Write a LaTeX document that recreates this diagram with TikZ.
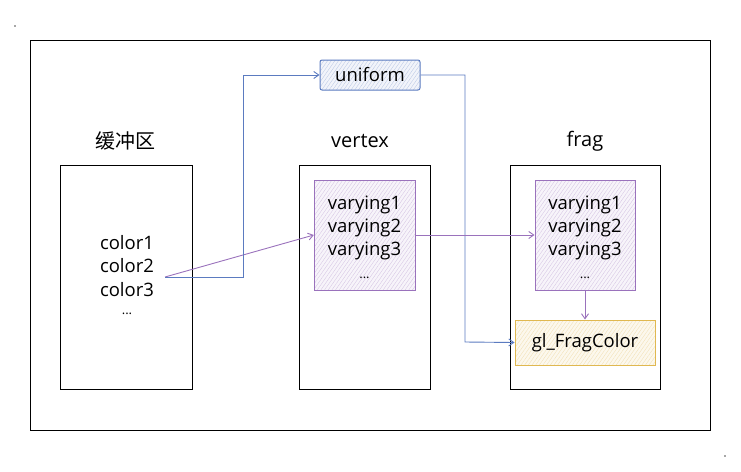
\documentclass[tikz,border=0pt]{standalone}
\usepackage{fontspec}
\setmainfont{Open Sans}
\newfontfamily\cjk{Noto Sans CJK SC}
\usetikzlibrary{patterns.meta,arrows.meta}
\definecolor{bluel}{HTML}{5B7BC0}
\definecolor{purp}{HTML}{9A72BC}
\definecolor{yel}{HTML}{E0B850}
\tikzset{
  every node/.style={font=\fontsize{18.5}{23}\selectfont, text=black},
  outerbox/.style={draw=black, line width=1pt, inner sep=0pt},
  purplebox/.style={draw=purp, line width=1pt, inner sep=0pt, align=center,
    preaction={fill=purp!8},
    pattern={Lines[angle=55,distance=3pt,line width=0.3pt]}, pattern color=purp!45},
  bluebox/.style={draw=bluel, line width=1pt, rounded corners=2pt, inner sep=0pt,
    preaction={fill=bluel!8},
    pattern={Lines[angle=55,distance=3pt,line width=0.3pt]}, pattern color=bluel!45},
  yelbox/.style={draw=yel, line width=1pt, inner sep=0pt,
    preaction={fill=yel!10},
    pattern={Lines[angle=55,distance=3pt,line width=0.3pt]}, pattern color=yel!45},
  conn/.style={line width=0.9pt, -{Straight Barb[length=5pt,width=7pt]}},
  title/.style={font=\fontsize{20}{22}\selectfont},
}
\begin{document}
\begin{tikzpicture}[x=1pt,y=-1pt]
\useasboundingbox (0,0) rectangle (741,471);
\fill[black!70] (15,26) circle (0.8);
\fill[black!70] (725,456) circle (0.8);
% outer frame
\draw[line width=1pt] (30,40) rectangle (710,430);
% main boxes
\node[outerbox, minimum width=132, minimum height=224] (buf) at (126,277) {};
\node[outerbox, minimum width=131, minimum height=224] (vert) at (364.5,277) {};
\node[outerbox, minimum width=150, minimum height=224] (frag) at (585,277) {};
% titles
\node[title] (tbuf) at (125,141) {\cjk 缓冲区};
\node[title] (tvert) at (360,141) {vertex};
\node[title] (tfrag) at (585,141) {frag};
% buffer text
\node[align=center] (bt1) at (127,243) {color1};
\node[align=center] (bt2) at (127,266) {color2};
\node[align=center] (bt3) at (127,290) {color3};
\node[font=\fontsize{13}{15}\selectfont] (bt4) at (127,314) {...};
% inner boxes
\node[purplebox, minimum width=101, minimum height=110] (vin) at (364.5,235) {};
\node[align=center] (vtxt) at (364.5,237) {varying1\\varying2\\varying3\\{\fontsize{13}{15}\selectfont ...}};
\node[purplebox, minimum width=100, minimum height=110] (fin) at (585,235) {};
\node[align=center] (ftxt) at (585,237) {varying1\\varying2\\varying3\\{\fontsize{13}{15}\selectfont ...}};
\node[yelbox, minimum width=140, minimum height=45] (glf) at (585,342.5) {};
\node (gltxt) at (585,343) {gl\_FragColor};
\node[bluebox, minimum width=100, minimum height=30] (uni) at (370,75) {};
\node (unitxt) at (370,75) {uniform};
% connectors
\coordinate (src) at (165,277);
\draw[conn, draw=purp] (src) -- (vin.west);
\draw[conn, draw=bluel] (src) -- (243,277) -- (243,75) -- (uni.west);
\draw[conn, draw=bluel] (uni.east) -- (465,75) -- (465,342) -- (glf.west);
\draw[conn, draw=purp] (vin.east) -- (fin.west);
\draw[conn, draw=purp] (fin.south) -- (glf.north);
\end{tikzpicture}
\end{document}
